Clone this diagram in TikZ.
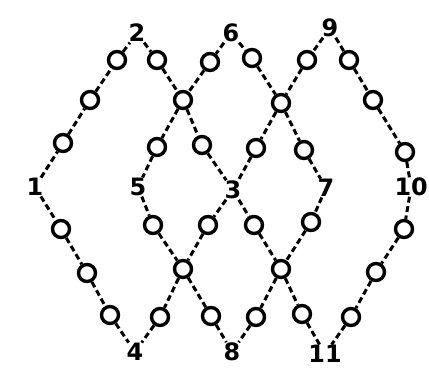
\documentclass[tikz,border=0pt]{standalone}
\usepackage{fontspec}
\setsansfont{DejaVu Sans}
\begin{document}
\begin{tikzpicture}[x=1bp,y=-1bp,
  bead/.style={circle, draw, line width=3.4bp, minimum size=17bp, inner sep=0pt},
  lbl/.style={font=\fontsize{24}{24}\selectfont\sffamily\bfseries, inner sep=0.5bp},
  link/.style={line width=3bp, dash pattern=on 6bp off 3.5bp}]
\useasboundingbox (0,0) rectangle (429,374);
% vertex labels
\node[lbl] (n1) at (35,187) {1};
\node[lbl] (n2) at (137,33) {2};
\node[lbl] (n6) at (231,33) {6};
\node[lbl] (n9) at (330,28) {9};
\node[lbl] (n5) at (138,187) {5};
\node[lbl] (n3) at (233,190) {3};
\node[lbl] (n7) at (326,188) {7};
\node[lbl,anchor=east] (n10) at (428.5,187) {10};
\node[lbl] (n4) at (135,352) {4};
\node[lbl] (n8) at (232,352) {8};
\node[lbl] (n11) at (325,354) {11};
% beads, upper half
\node[bead] (a1) at (63,143) {};
\node[bead] (a2) at (90,100) {};
\node[bead] (a3) at (117,60) {};
\node[bead] (b1) at (157,60) {};
\node[bead] (x1) at (183,100) {};
\node[bead] (b3) at (202,145) {};
\node[bead] (c1) at (210,62) {};
\node[bead] (c3) at (157,147) {};
\node[bead] (d1) at (252,58) {};
\node[bead] (x2) at (281,103) {};
\node[bead] (d3) at (304,150) {};
\node[bead] (e1) at (307,60) {};
\node[bead] (e3) at (256,148) {};
\node[bead] (f1) at (349,60) {};
\node[bead] (f2) at (373,100) {};
\node[bead] (f3) at (405,152) {};
% beads, lower half
\node[bead] (g1) at (61,229) {};
\node[bead] (g2) at (87,273) {};
\node[bead] (g3) at (110,315) {};
\node[bead] (h1) at (153,225) {};
\node[bead] (x3) at (183,269) {};
\node[bead] (h3) at (211,316) {};
\node[bead] (i1) at (208,225) {};
\node[bead] (i3) at (160,317) {};
\node[bead] (j1) at (254,225) {};
\node[bead] (x4) at (281,269) {};
\node[bead] (j3) at (302,314) {};
\node[bead] (k1) at (311,222) {};
\node[bead] (k3) at (256,317) {};
\node[bead] (l1) at (404,229) {};
\node[bead] (l2) at (376,272) {};
\node[bead] (l3) at (351,317) {};
% dashed connectors
\draw[link] (n1) -- (a1) -- (a2) -- (a3) -- (n2);
\draw[link] (n2) -- (b1) -- (x1) -- (b3) -- (n3);
\draw[link] (n6) -- (c1) -- (x1) -- (c3) -- (n5);
\draw[link] (n6) -- (d1) -- (x2) -- (d3) -- (n7);
\draw[link] (n9) -- (e1) -- (x2) -- (e3) -- (n3);
\draw[link] (n9) -- (f1) -- (f2) -- (f3) -- (n10);
\draw[link] (n1) -- (g1) -- (g2) -- (g3) -- (n4);
\draw[link] (n5) -- (h1) -- (x3) -- (h3) -- (n8);
\draw[link] (n3) -- (i1) -- (x3) -- (i3) -- (n4);
\draw[link] (n3) -- (j1) -- (x4) -- (j3) -- (n11);
\draw[link] (n7) -- (k1) -- (x4) -- (k3) -- (n8);
\draw[link] (n10) -- (l1) -- (l2) -- (l3) -- (n11);
\end{tikzpicture}
\end{document}
